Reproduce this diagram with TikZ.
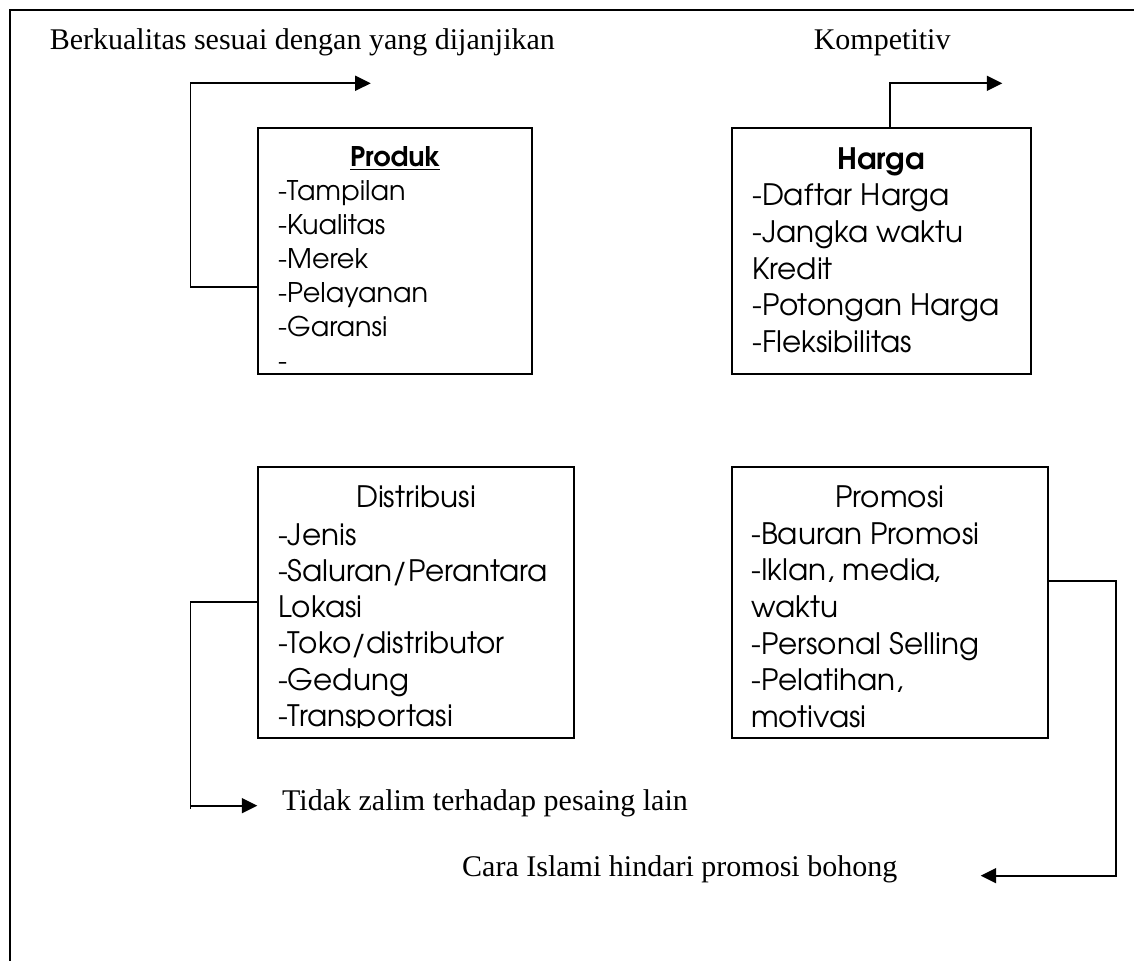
\documentclass[tikz,border=0pt]{standalone}
\usepackage{fontspec}
\setmainfont{Liberation Serif}
\newfontfamily\gothic[Extension=.otf,
  UprightFont=texgyreadventor-regular,
  BoldFont=texgyreadventor-bold]{texgyreadventor}
\usetikzlibrary{arrows.meta,fit}

\tikzset{
  frame/.style={line width=0.8pt},
  box/.style={draw, line width=0.7pt, inner sep=0pt, fit={#1}},
  conn/.style={line width=0.65pt},
  arr/.style={conn, -{Triangle[length=6.3pt,width=6.1pt]}},
  note/.style={inner sep=0pt, anchor=base west, font=\fontsize{12.2}{14}\selectfont},
  item/.style={inner sep=0pt, anchor=base west, font=\gothic\fontsize{12}{14}\selectfont},
  itemsmall/.style={inner sep=0pt, anchor=base west, font=\gothic\fontsize{11}{13}\selectfont},
  title/.style={inner sep=0pt, anchor=base, font=\gothic\fontsize{12}{14}\selectfont},
}

\begin{document}
\begin{tikzpicture}[x=0.4065pt, y=-0.4065pt]
\useasboundingbox (0,0) rectangle (1134,961);

% outer frame (open to the right and bottom)
\draw[frame] (1134,10) -- (10,10) -- (10,961);

% box corners
\coordinate (pa) at (258,128);   \coordinate (pb) at (532.3,374.3);
\coordinate (ha) at (731.7,128); \coordinate (hb) at (1031,374.3);
\coordinate (da) at (258,467);   \coordinate (db) at (574,738);
\coordinate (ma) at (732,467);   \coordinate (mb) at (1048,738);

\node[box={(pa)(pb)}] (prodbox) {};
\node[box={(ha)(hb)}] (hargabox) {};
\node[box={(da)(db)}] (distbox) {};
\node[box={(ma)(mb)}] (promobox) {};

% Produk
\node[title, font=\gothic\bfseries\fontsize{11}{13}\selectfont] (prodtitle) at (395.2,166) {\underline{Produk}};
\foreach \t [count=\i from 0] in {-Tampilan,-Kualitas,-Merek,-Pelayanan,-Garansi,-}
  \node[itemsmall] (prod-\i) at (277.7,{200+34*\i}) {\t};

% Harga
\node[title, font=\gothic\bfseries\fontsize{12}{14}\selectfont] (hargatitle) at (881.3,169.3) {Harga};
\foreach \t [count=\i from 0] in {-Daftar Harga,-Jangka waktu,Kredit,-Potongan Harga,-Fleksibilitas}
  \node[item] (harga-\i) at (751.7,{205.7+36.7*\i}) {\t};

% Distribusi
\node[title] (disttitle) at (416,507) {Distribusi};
\begin{scope}
  \clip (258,467) rectangle (574,727.5);
  \foreach \t [count=\i from 0] in {-Jenis,-Saluran/Perantara,Lokasi,-Toko/distributor,-Gedung,-Transportasi}
    \node[item] (dist-\i) at (277.7,{545+36.3*\i}) {\t};
\end{scope}

% Promosi
\node[title] (promotitle) at (890,507.3) {Promosi};
\begin{scope}
  \clip (732,467) rectangle (1048,727.5);
  \foreach \t [count=\i from 0] in {-Bauran Promosi,{-Iklan, media\kern-1.5pt,},waktu,-Personal Selling,{-Pelatihan,},motivasi}
    \node[item] (promo-\i) at (750.7,{544+36.7*\i}) {\t};
\end{scope}

% labels
\node[note] (lblprod) at (49.3,50) {Berkualitas sesuai dengan yang dijanjikan};
\node[note] (lblharga) at (813.3,50) {Kompetitiv};
\node[note] (lbldist) at (281.7,810) {Tidak zalim terhadap pesaing lain};
\node[note] (lblpromo) at (461.7,876.7) {Cara Islami hindari promosi bohong};

% connectors
\coordinate (pturn) at (190.3,286.7);
\coordinate (ptip)  at (370.7,83.3);
\draw[arr] (pturn -| prodbox.west) -- (pturn) |- (ptip);

\coordinate (hturn) at (889.7,83.3);
\coordinate (htip)  at (1002.3,83.3);
\draw[arr] (hturn |- hargabox.north) -- (hturn) -- (htip);

\coordinate (dturn) at (190.3,601.7);
\coordinate (dtip)  at (257.3,805.7);
\draw[arr] (dturn -| distbox.west) -- (dturn) |- (dtip);
\draw[conn] (dturn |- dtip) -- ++(0,3);

\coordinate (mturn) at (1115.7,581);
\coordinate (mtip)  at (980.7,875.7);
\draw[arr] (mturn -| promobox.east) -- (mturn) |- (mtip);
\end{tikzpicture}
\end{document}
